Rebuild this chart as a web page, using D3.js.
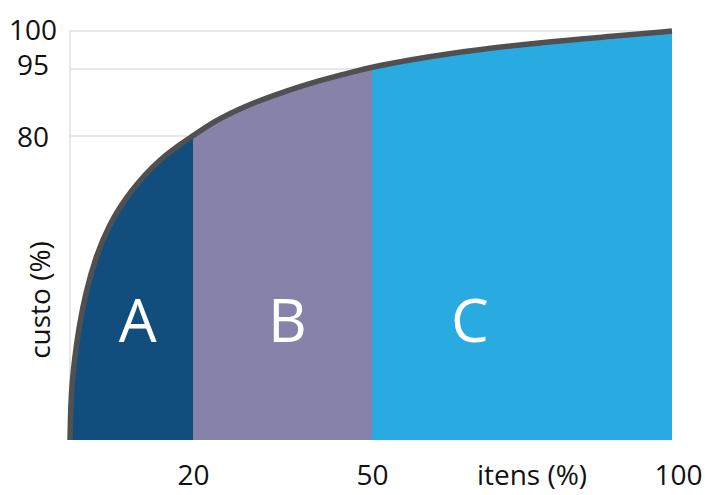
<!DOCTYPE html>
<html>
<head>
<meta charset="utf-8">
<script src="https://cdn.jsdelivr.net/npm/d3@7"></script>
<style>
  html, body { margin: 0; padding: 0; background: #fff; }
  svg { display: block; }
  text { font-family: "Open Sans", "Noto Sans", sans-serif; }
</style>
</head>
<body>
<svg id="chart" width="705" height="495"></svg>
<script>
// ABC (Pareto) curve: cumulative cost share vs cumulative share of items
const itens = [0, 0.16, 0.76, 1.51, 2.6, 4.11, 6.29, 9.67, 14.6, 20, 23.35, 29.0, 34.6, 40.1, 45.8, 50, 62.5, 79.2, 90.2, 100];
const custo = [0, 12.6, 21.6, 30.3, 39.0, 47.9, 56.6, 65.3, 74.2, 80, 83.2, 86.9, 89.6, 92.0, 94.0, 95.3, 97.1, 98.6, 99.3, 100];

const classes = ["A", "B", "C"];
const classBounds = [0, 20, 50, 100];
const classColors = ["#114e7d", "#8782aa", "#29abe2"];
const classLabelAt = [11, 35.8, 66.3];

const xTicks = [20, 50, 100];
const yTicks = [80, 95, 100];

const svg = d3.select("#chart");

// schematic axes: both scales are piecewise so the class limits sit where the diagram puts them
const x = d3.scaleLinear().domain([0, 20, 50, 100]).range([70, 193, 372, 672]);
const y = d3.scaleLinear().domain([0, 80, 95, 100]).range([440, 136, 69, 31]);

const pts = itens.map((v, i) => [v, custo[i]]);

// gridlines
const grid = svg.append("g").attr("stroke", "#e1e1e1").attr("stroke-width", 1.5);
grid.selectAll("line.h").data(yTicks).join("line")
  .attr("class", "h")
  .attr("x1", x(0)).attr("x2", x(100))
  .attr("y1", d => y(d)).attr("y2", d => y(d));
grid.append("line")
  .attr("x1", x(0)).attr("x2", x(0))
  .attr("y1", y(100)).attr("y2", y(0));

// filled classes under the curve
const curve = d3.curveBasis;
const area = d3.area()
  .x(d => x(d[0])).y0(y(0)).y1(d => y(d[1]))
  .curve(curve);

const defs = svg.append("defs");
classes.forEach((c, i) => {
  defs.append("clipPath").attr("id", "clip-" + c)
    .append("rect")
    .attr("x", x(classBounds[i]))
    .attr("width", x(classBounds[i + 1]) - x(classBounds[i]))
    .attr("y", 0).attr("height", y(0));
});

svg.append("g").selectAll("path").data(classes).join("path")
  .attr("d", area(pts))
  .attr("fill", (c, i) => classColors[i])
  .attr("clip-path", c => `url(#clip-${c})`);

// curve
const line = d3.line()
  .x(d => x(d[0])).y(d => y(d[1]))
  .curve(curve);

svg.append("path")
  .attr("d", line(pts))
  .attr("fill", "none")
  .attr("stroke", "#505050")
  .attr("stroke-width", 5.5);

// class letters
svg.append("g").selectAll("text").data(classes).join("text")
  .attr("x", (c, i) => x(classLabelAt[i]))
  .attr("y", 342)
  .attr("text-anchor", "middle")
  .attr("fill", "#fff")
  .attr("font-size", 60)
  .text(c => c);

// axes
const xAxis = svg.append("g")
  .attr("transform", `translate(0,${y(0)})`)
  .call(d3.axisBottom(x).tickValues(xTicks).tickSize(0).tickPadding(0).tickFormat(d3.format("d")));
xAxis.select(".domain").remove();
xAxis.selectAll("text")
  .attr("font-family", null)
  .attr("font-size", 28)
  .attr("fill", "#111")
  .attr("dy", null)
  .attr("y", 45)
  .attr("dx", d => d === 100 ? 6 : 0);

const yShift = { 100: "0.29em", 95: "0.21em", 80: "0.39em" };
const yAxis = svg.append("g")
  .attr("transform", `translate(${x(0)},0)`)
  .call(d3.axisLeft(y).tickValues(yTicks).tickSize(0).tickPadding(0).tickFormat(d3.format("d")));
yAxis.select(".domain").remove();
yAxis.selectAll("text")
  .attr("font-family", null)
  .attr("font-size", 28)
  .attr("fill", "#111")
  .attr("text-anchor", "middle")
  .attr("x", -37)
  .attr("dy", d => yShift[d]);

// axis titles
svg.append("text")
  .attr("x", 532).attr("y", 485)
  .attr("text-anchor", "middle")
  .attr("font-size", 28)
  .attr("fill", "#111")
  .text("itens (%)");

svg.append("text")
  .attr("transform", "translate(50,300) rotate(-90)")
  .attr("text-anchor", "middle")
  .attr("font-size", 28)
  .attr("fill", "#111")
  .text("custo (%)");
</script>
</body>
</html>
